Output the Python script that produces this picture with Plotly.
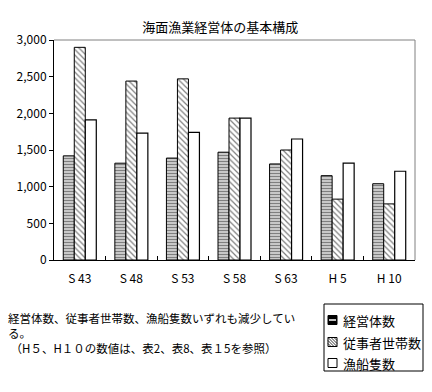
import plotly.graph_objects as go

categories = ["S 43", "S 48", "S 53", "S 58", "S 63", "H 5", "H 10"]
keiei = [1420, 1320, 1390, 1470, 1310, 1150, 1040]
jujisha = [2900, 2440, 2470, 1935, 1500, 830, 765]
gyosen = [1910, 1730, 1740, 1935, 1650, 1320, 1210]
series_names = ["経営体数", "従事者世帯数", "漁船隻数"]
y_ticks = [0, 500, 1000, 1500, 2000, 2500, 3000]
y_ticklabels = ["0", "500", "1,000", "1,500", "2,000", "2,500", "3,000"]
note_text = ("経営体数、従事者世帯数、漁船隻数いずれも減少してい<br>る。<br>"
             " （H５、H１０の数値は、表2、表8、表１5を参照）")

FONT = "Noto Sans CJK JP, sans-serif"

# plot area in pixels
L, R, T, B = 54, 415, 40, 260
W, H = R - L, B - T


def px(x):
    return (x - L) / W


def py(y):
    return (B - y) / H


fig = go.Figure()
fig.add_trace(go.Bar(
    x=categories, y=keiei, name=series_names[0],
    marker=dict(color="white", line=dict(color="black", width=1),
                pattern=dict(shape="-", size=3, solidity=0.62, fgcolor="black", bgcolor="white")),
))
fig.add_trace(go.Bar(
    x=categories, y=jujisha, name=series_names[1],
    marker=dict(color="white", line=dict(color="black", width=1),
                pattern=dict(shape="\\", size=4, solidity=0.3, fgcolor="black", bgcolor="white")),
))
fig.add_trace(go.Bar(
    x=categories, y=gyosen, name=series_names[2],
    marker=dict(color="white", line=dict(color="black", width=1.2)),
))

shapes = [
    dict(type="line", xref="paper", yref="paper", x0=0, x1=1, y0=1, y1=1,
         line=dict(color="gray", width=1)),
    dict(type="line", xref="paper", yref="paper", x0=1, x1=1, y0=0, y1=1,
         line=dict(color="gray", width=1)),
    # legend box
    dict(type="rect", xref="paper", yref="paper", x0=px(324), x1=px(423), y0=py(304), y1=py(371),
         line=dict(color="black", width=1), fillcolor="white", layer="above"),
]
annotations = []
row_y = [320, 342, 363]
sx0, sx1 = 328, 337
for i, (name, yc) in enumerate(zip(series_names, row_y)):
    y0, y1 = yc - 4.5, yc + 4.5
    if i == 0:
        shapes.append(dict(type="rect", xref="paper", yref="paper", x0=px(sx0), x1=px(sx1),
                           y0=py(y0), y1=py(y1), line=dict(color="black", width=1),
                           fillcolor="black", layer="above"))
        shapes.append(dict(type="line", xref="paper", yref="paper", x0=px(sx0 + 1), x1=px(sx1 - 1),
                           y0=py(yc), y1=py(yc), line=dict(color="white", width=1.5), layer="above"))
    elif i == 1:
        shapes.append(dict(type="rect", xref="paper", yref="paper", x0=px(sx0), x1=px(sx1),
                           y0=py(y0), y1=py(y1), line=dict(color="black", width=1),
                           fillcolor="white", layer="above"))
        for d in (-6, -3, 0, 3, 6):
            ax0 = sx0 + max(0, d)
            ay0 = y0 + max(0, -d)
            ax1 = sx1 - max(0, -d)
            ay1 = y1 - max(0, d)
            shapes.append(dict(type="line", xref="paper", yref="paper", x0=px(ax0), x1=px(ax1),
                               y0=py(ay0), y1=py(ay1), line=dict(color="black", width=0.8),
                               layer="above"))
    else:
        shapes.append(dict(type="rect", xref="paper", yref="paper", x0=px(sx0), x1=px(sx1),
                           y0=py(y0), y1=py(y1), line=dict(color="black", width=1),
                           fillcolor="white", layer="above"))
    annotations.append(dict(text=name, xref="paper", yref="paper", x=px(341), y=py(yc),
                            xanchor="left", yanchor="middle", showarrow=False,
                            font=dict(family=FONT, size=13, color="black")))

annotations.append(dict(text=note_text, xref="paper", yref="paper", x=px(6), y=py(333),
                        xanchor="left", yanchor="middle", showarrow=False, align="left",
                        font=dict(family=FONT, size=11.5, color="black")))

fig.update_layout(
    width=432, height=392,
    margin=dict(l=L, r=432 - R, t=T, b=392 - B, autoexpand=False),
    paper_bgcolor="white", plot_bgcolor="white",
    font=dict(family=FONT, size=11, color="black"),
    barmode="group", bargap=0.36, bargroupgap=0,
    title=dict(text="海面漁業経営体の基本構成", x=0.51, xanchor="center",
               y=1 - 27 / 392, yanchor="middle",
               font=dict(family=FONT, size=13, color="black")),
    showlegend=False,
    xaxis=dict(type="category", showline=True, linecolor="black", linewidth=1,
               ticks="inside", ticklen=4, tickcolor="black", tickson="boundaries",
               showgrid=False, tickfont=dict(family=FONT, size=12), ticklabelstandoff=8),
    yaxis=dict(range=[0, 3000], tickvals=y_ticks, ticktext=y_ticklabels,
               showline=True, linecolor="black", linewidth=1,
               ticks="outside", ticklen=4, tickcolor="black",
               showgrid=False, zeroline=False, tickfont=dict(family=FONT, size=12)),
    shapes=shapes,
    annotations=annotations,
)

fig.write_html("out.html", config={"displayModeBar": False},
               post_script="document.body.style.margin='0';")
